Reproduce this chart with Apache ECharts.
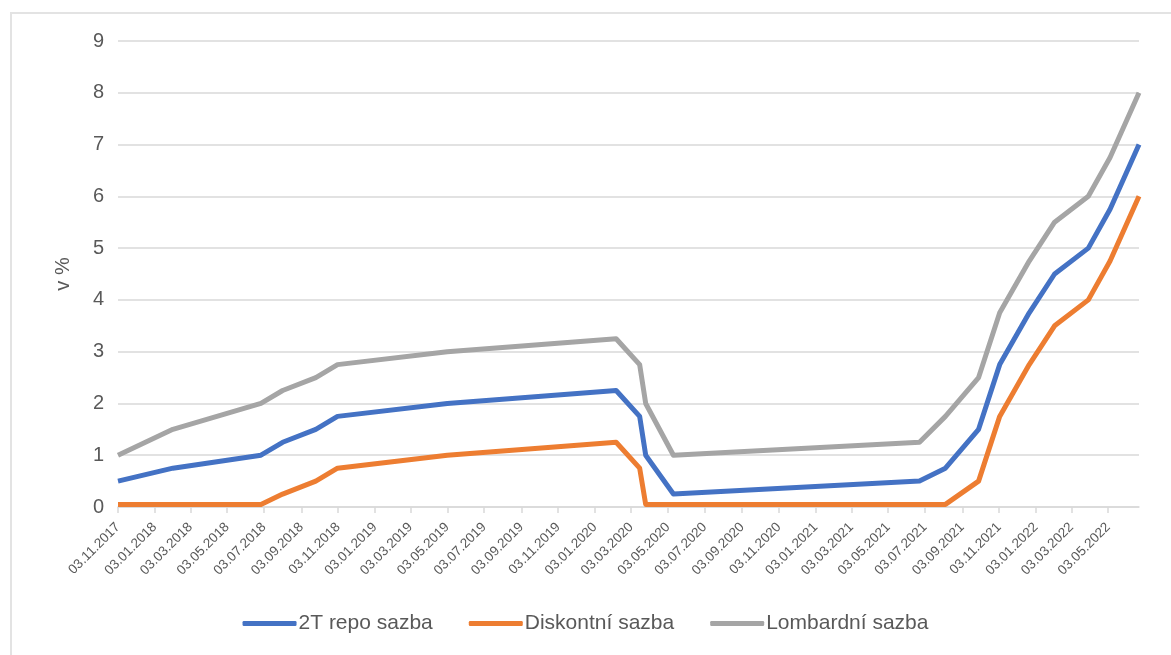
<!DOCTYPE html>
<html lang="cs">
<head>
<meta charset="UTF-8">
<title>Sazby ČNB</title>
<script src="https://cdn.jsdelivr.net/npm/echarts@6/dist/echarts.min.js"></script>
<style>
    html, body { margin: 0; padding: 0; background: #fff; }
    .frame {
        position: absolute; left: 10px; top: 12px; width: 1200px; height: 700px;
        border-left: 2px solid #e3e3e3; border-top: 2px solid #e3e3e3;
    }
    #main { position: absolute; left: 0; top: 0; width: 1171px; height: 655px; }
</style>
</head>
<body>
<div class="frame"></div>
<div id="main"></div>
<script>
    // dny zmen sazeb
    var dates = ['2017-11-03', '2018-02-02', '2018-06-28', '2018-08-03', '2018-09-27', '2018-11-02',
        '2019-05-03', '2020-02-07', '2020-03-17', '2020-03-27', '2020-05-12', '2021-06-24',
        '2021-08-06', '2021-09-30', '2021-11-04', '2021-12-23', '2022-02-03', '2022-03-31',
        '2022-05-06', '2022-06-23'];
    var repo = [0.5, 0.75, 1.0, 1.25, 1.5, 1.75, 2.0, 2.25, 1.75, 1.0, 0.25, 0.5,
        0.75, 1.5, 2.75, 3.75, 4.5, 5.0, 5.75, 7.0];
    var diskont = [0.05, 0.05, 0.05, 0.25, 0.5, 0.75, 1.0, 1.25, 0.75, 0.05, 0.05, 0.05,
        0.05, 0.5, 1.75, 2.75, 3.5, 4.0, 4.75, 6.0];
    var lombard = [1.0, 1.5, 2.0, 2.25, 2.5, 2.75, 3.0, 3.25, 2.75, 2.0, 1.0, 1.25,
        1.75, 2.5, 3.75, 4.75, 5.5, 6.0, 6.75, 8.0];
    var tickLabels = ['03.11.2017', '03.01.2018', '03.03.2018', '03.05.2018', '03.07.2018', '03.09.2018',
        '03.11.2018', '03.01.2019', '03.03.2019', '03.05.2019', '03.07.2019', '03.09.2019',
        '03.11.2019', '03.01.2020', '03.03.2020', '03.05.2020', '03.07.2020', '03.09.2020',
        '03.11.2020', '03.01.2021', '03.03.2021', '03.05.2021', '03.07.2021', '03.09.2021',
        '03.11.2021', '03.01.2022', '03.03.2022', '03.05.2022'];

    function isoToTs(s) {
        var p = s.split('-');
        return Date.UTC(+p[0], +p[1] - 1, +p[2]);
    }
    function labelToTs(s) {
        var p = s.split('.');
        return Date.UTC(+p[2], +p[1] - 1, +p[0]);
    }
    function pad(n) { return (n < 10 ? '0' : '') + n; }
    function fmt(v) {
        var d = new Date(v);
        return pad(d.getUTCDate()) + '.' + pad(d.getUTCMonth() + 1) + '.' + d.getUTCFullYear();
    }
    function pairs(vals) {
        return vals.map(function (v, i) { return [isoToTs(dates[i]), v]; });
    }

    var tickTs = tickLabels.map(labelToTs);
    var font = "'Liberation Sans', Arial, sans-serif";

    var myChart = echarts.init(document.getElementById('main'));
    var option = {
        animation: false,
        color: ['#4472C4', '#ED7D31', '#A5A5A5'],
        grid: {
            left: 118,
            right: 32,
            top: 41,
            bottom: 148,
            containLabel: false
        },
        legend: {
            bottom: 16,
            left: 'center',
            icon: 'roundRect',
            itemWidth: 54,
            itemHeight: 5,
            itemGap: 36,
            textStyle: {
                color: '#595959',
                fontSize: 21,
                fontFamily: font,
                padding: [0, 0, 0, -3]
            },
            data: ['2T repo sazba', 'Diskontní sazba', 'Lombardní sazba']
        },
        xAxis: {
            // osa v datumech (timestamp), popisky kazde 2 mesice
            type: 'value',
            min: isoToTs(dates[0]),
            max: isoToTs(dates[dates.length - 1]),
            axisLine: {
                show: true,
                lineStyle: { color: '#d9d9d9', width: 1.5 }
            },
            axisTick: {
                show: true,
                length: 6,
                customValues: tickTs,
                lineStyle: { color: '#d9d9d9', width: 1.5 }
            },
            axisLabel: {
                customValues: tickTs,
                rotate: 45,
                margin: 18,
                color: '#595959',
                fontSize: 13.5,
                fontFamily: font,
                formatter: function (v) { return fmt(v); }
            },
            splitLine: { show: false }
        },
        yAxis: {
            type: 'value',
            min: 0,
            max: 9,
            interval: 1,
            name: 'v %',
            nameLocation: 'middle',
            nameGap: 45,
            nameTextStyle: {
                color: '#595959',
                fontSize: 20,
                fontFamily: font
            },
            axisLine: { show: false },
            axisTick: { show: false },
            axisLabel: {
                color: '#595959',
                fontSize: 20,
                fontFamily: font,
                margin: 14
            },
            splitLine: {
                lineStyle: { color: '#d9d9d9', width: 1.5 }
            }
        },
        series: [
            {
                name: '2T repo sazba',
                type: 'line',
                symbol: 'none',
                lineStyle: { width: 5, join: 'round' },
                data: pairs(repo)
            },
            {
                name: 'Diskontní sazba',
                type: 'line',
                symbol: 'none',
                lineStyle: { width: 5, join: 'round' },
                data: pairs(diskont)
            },
            {
                name: 'Lombardní sazba',
                type: 'line',
                symbol: 'none',
                lineStyle: { width: 5, join: 'round' },
                data: pairs(lombard)
            }
        ]
    };
    myChart.setOption(option);
</script>
</body>
</html>
